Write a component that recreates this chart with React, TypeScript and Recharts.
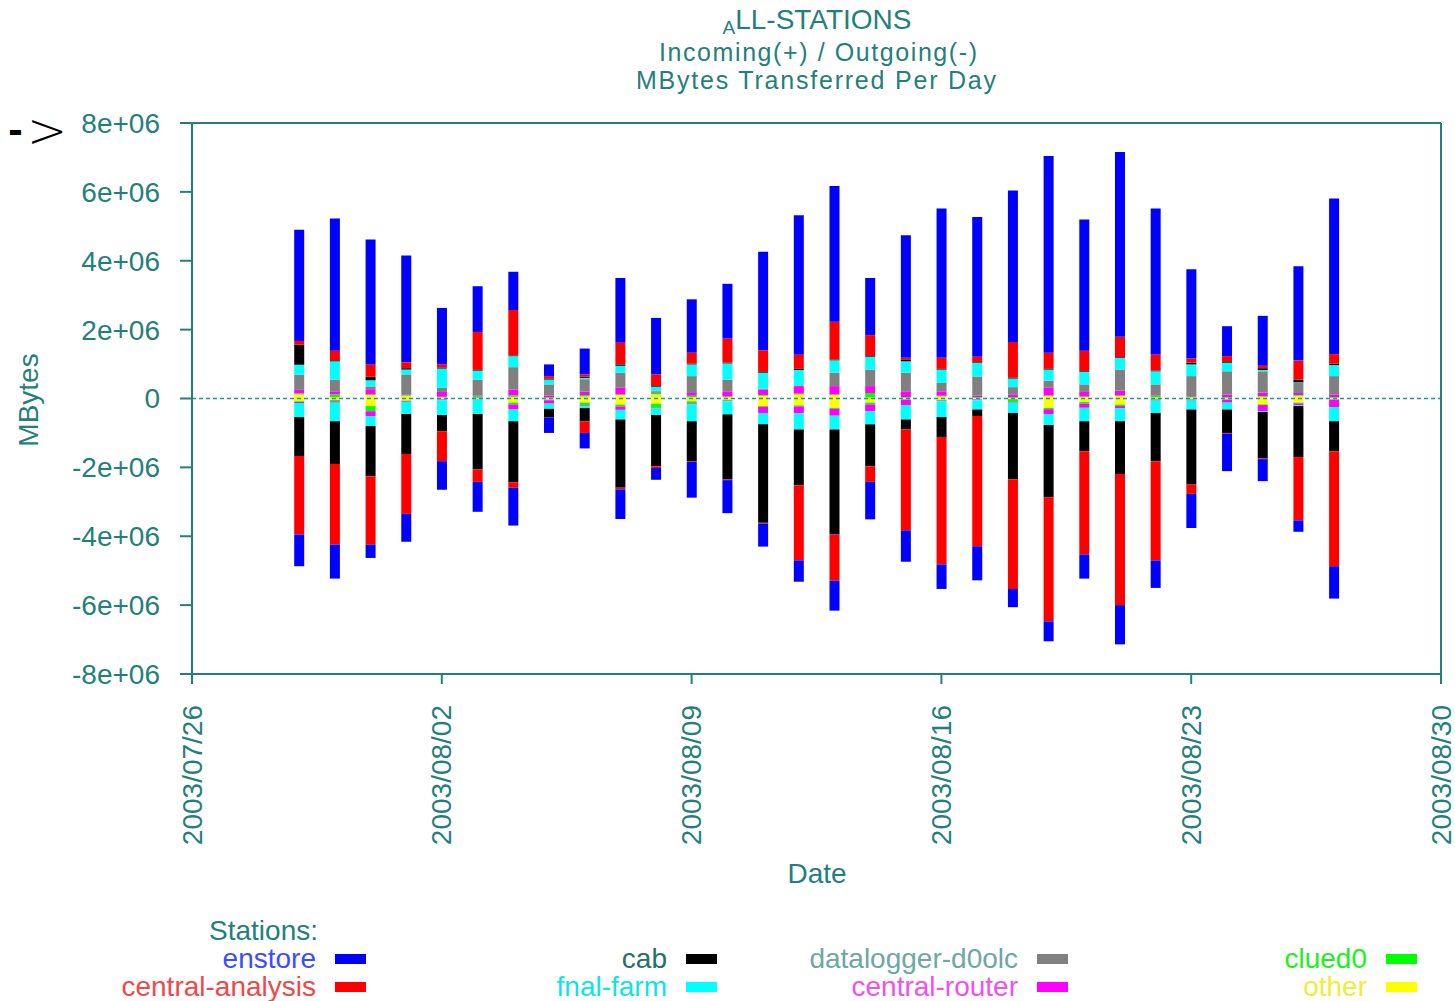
import React from 'react';
import { BarChart, Bar, XAxis, YAxis, ReferenceLine } from 'recharts';

// ---- categories ----
const dates = [
  '2003/07/29', '2003/07/30', '2003/07/31', '2003/08/01', '2003/08/02', '2003/08/03', '2003/08/04', '2003/08/05',
  '2003/08/06', '2003/08/07', '2003/08/08', '2003/08/09', '2003/08/10', '2003/08/11', '2003/08/12', '2003/08/13',
  '2003/08/14', '2003/08/15', '2003/08/16', '2003/08/17', '2003/08/18', '2003/08/19', '2003/08/20', '2003/08/21',
  '2003/08/22', '2003/08/23', '2003/08/24', '2003/08/25', '2003/08/26', '2003/08/27',
];
const startDate = '2003/07/26';
const xTickDates = ['2003/07/26', '2003/08/02', '2003/08/09', '2003/08/16', '2003/08/23', '2003/08/30'];
const yTicks = [-8, -6, -4, -2, 0, 2, 4, 6, 8]; // in units of 1e6 MBytes

// ---- series values (millions of MBytes), incoming (+) ----
const otherIn = [0.12, 0.04, 0.10, 0.08, 0.03, 0.02, 0.05, 0.02, 0.06, 0.10, 0.12, 0.04, 0.04, 0.08, 0.12, 0.10, 0.03, 0.02, 0.06, 0.02, 0.02, 0.07, 0.04, 0.07, 0.03, 0.03, 0.02, 0.05, 0.08, 0.02];
const clued0In = [0.03, 0.08, 0.02, 0.02, 0.02, 0.04, 0.04, 0.01, 0.04, 0.02, 0.05, 0.04, 0.02, 0.02, 0.02, 0.02, 0.13, 0.02, 0.02, 0.02, 0.02, 0.02, 0.02, 0.02, 0.04, 0.02, 0.02, 0.02, 0.02, 0.02];
const centralRouterIn = [0.10, 0.09, 0.15, 0.02, 0.14, 0.02, 0.17, 0.06, 0.10, 0.19, 0.03, 0.08, 0.15, 0.16, 0.22, 0.24, 0.20, 0.17, 0.13, 0.04, 0.08, 0.22, 0.13, 0.14, 0.02, 0.02, 0.08, 0.10, 0.06, 0.08];
const dataloggerIn = [0.44, 0.34, 0.08, 0.58, 0.12, 0.47, 0.65, 0.32, 0.36, 0.44, 0.02, 0.49, 0.34, 0.02, 0.02, 0.39, 0.48, 0.54, 0.24, 0.56, 0.21, 0.21, 0.22, 0.61, 0.32, 0.58, 0.67, 0.62, 0.29, 0.53];
const fnalFarmIn = [0.29, 0.53, 0.18, 0.14, 0.56, 0.26, 0.32, 0.14, 0.04, 0.20, 0.12, 0.34, 0.47, 0.47, 0.45, 0.36, 0.37, 0.33, 0.39, 0.39, 0.25, 0.32, 0.36, 0.34, 0.38, 0.34, 0.25, 0.04, 0.02, 0.32];
const cabIn = [0.58, 0.03, 0.10, 0.04, 0.02, 0.02, 0.02, 0.02, 0.03, 0.04, 0.02, 0.02, 0.02, 0.02, 0.03, 0.02, 0.02, 0.04, 0.02, 0.02, 0.02, 0.02, 0.02, 0.02, 0.02, 0.05, 0.02, 0.05, 0.08, 0.04];
const centralAnalysisIn = [0.11, 0.28, 0.36, 0.17, 0.10, 1.10, 1.32, 0.08, 0.07, 0.63, 0.34, 0.32, 0.70, 0.63, 0.41, 1.10, 0.61, 0.06, 0.32, 0.16, 1.04, 0.47, 0.60, 0.59, 0.47, 0.12, 0.17, 0.07, 0.55, 0.28];
const enstoreIn = [3.23, 3.84, 3.63, 3.10, 1.64, 1.33, 1.11, 0.34, 0.75, 1.88, 1.64, 1.55, 1.59, 2.86, 4.05, 3.94, 1.66, 3.56, 4.34, 4.06, 4.40, 5.71, 3.81, 5.37, 4.24, 2.59, 0.87, 1.45, 2.74, 4.52];

// ---- series values (millions of MBytes), outgoing (-) ----
const otherOut = [0.08, 0.04, 0.22, 0.06, 0.02, 0.01, 0.12, 0.03, 0.12, 0.18, 0.15, 0.08, 0.04, 0.22, 0.20, 0.27, 0.12, 0.02, 0.04, 0.02, 0.02, 0.27, 0.10, 0.18, 0.02, 0.02, 0.02, 0.17, 0.12, 0.02];
const clued0Out = [0.02, 0.04, 0.15, 0.02, 0.01, 0.01, 0.05, 0.02, 0.08, 0.05, 0.12, 0.06, 0.02, 0.02, 0.03, 0.03, 0.05, 0.02, 0.02, 0.01, 0.08, 0.04, 0.05, 0.04, 0.02, 0.02, 0.02, 0.02, 0.02, 0.02];
const centralRouterOut = [0.03, 0.04, 0.14, 0.02, 0.02, 0.01, 0.15, 0.10, 0.03, 0.10, 0.02, 0.03, 0.02, 0.18, 0.20, 0.20, 0.20, 0.15, 0.02, 0.02, 0.02, 0.14, 0.12, 0.06, 0.02, 0.02, 0.08, 0.18, 0.06, 0.21];
const dataloggerOut = [0, 0, 0, 0, 0, 0, 0, 0, 0, 0, 0, 0, 0, 0, 0, 0, 0, 0, 0, 0, 0, 0, 0, 0, 0, 0, 0, 0, 0, 0];
const fnalFarmOut = [0.41, 0.54, 0.29, 0.35, 0.43, 0.42, 0.34, 0.15, 0.05, 0.28, 0.19, 0.49, 0.38, 0.33, 0.47, 0.40, 0.38, 0.42, 0.46, 0.27, 0.30, 0.32, 0.39, 0.38, 0.36, 0.26, 0.20, 0.02, 0.02, 0.41];
const cabOut = [1.13, 1.24, 1.46, 1.16, 0.47, 1.61, 1.77, 0.25, 0.38, 1.98, 1.49, 1.16, 1.89, 2.86, 1.62, 3.05, 1.22, 0.29, 0.58, 0.19, 1.93, 2.10, 0.87, 1.53, 1.40, 2.18, 0.68, 1.35, 1.48, 0.87];
const centralAnalysisOut = [2.28, 2.34, 1.98, 1.74, 0.87, 0.36, 0.16, 0.00, 0.34, 0.05, 0.05, 0.02, 0.02, 0.02, 2.18, 1.34, 0.45, 2.93, 3.70, 3.78, 3.18, 3.60, 3.00, 3.81, 2.88, 0.27, 0.02, 0.02, 1.84, 3.34];
const enstoreOut = [0.92, 0.99, 0.39, 0.81, 0.83, 0.87, 1.10, 0.45, 0.45, 0.86, 0.34, 1.04, 0.96, 0.67, 0.62, 0.87, 1.09, 0.91, 0.71, 0.99, 0.53, 0.58, 0.70, 1.14, 0.80, 0.99, 1.09, 0.64, 0.33, 0.94];

// ---- stations (stack order: nearest zero first) ----
const stations = [
  { key: 'other', color: '#ffff00', text: '#eded3a', inV: otherIn, outV: otherOut },
  { key: 'clued0', color: '#00ff00', text: '#22ee22', inV: clued0In, outV: clued0Out },
  { key: 'central-router', color: '#ff00ff', text: '#f050f0', inV: centralRouterIn, outV: centralRouterOut },
  { key: 'datalogger-d0olc', color: '#808080', text: '#6ea7a4', inV: dataloggerIn, outV: dataloggerOut },
  { key: 'fnal-farm', color: '#00ffff', text: '#10e4e4', inV: fnalFarmIn, outV: fnalFarmOut },
  { key: 'cab', color: '#000000', text: '#2a6e6a', inV: cabIn, outV: cabOut },
  { key: 'central-analysis', color: '#ff0000', text: '#f04848', inV: centralAnalysisIn, outV: centralAnalysisOut },
  { key: 'enstore', color: '#0000ff', text: '#3d4cff', inV: enstoreIn, outV: enstoreOut },
];
// legend layout: columns of two
const legendColumns = [
  ['enstore', 'central-analysis'],
  ['cab', 'fnal-farm'],
  ['datalogger-d0olc', 'central-router'],
  ['clued0', 'other'],
];

const dayIndex = (d: string) => {
  const [y, m, dd] = d.split('/').map(Number);
  const [y0, m0, d0] = startDate.split('/').map(Number);
  return Math.round((Date.UTC(y, m - 1, dd) - Date.UTC(y0, m0 - 1, d0)) / 86400000);
};

const table = dates.map((d, i) => {
  const row: Record<string, number | string> = { x: dayIndex(d), date: d };
  stations.forEach((s) => {
    row[`${s.key}_in`] = s.inV[i];
    row[`${s.key}_out`] = -s.outV[i];
  });
  return row;
});

const xTicks = xTickDates.map(dayIndex);
const tickLabelByIndex: Record<number, string> = {};
xTickDates.forEach((d) => { tickLabelByIndex[dayIndex(d)] = d; });

const AXIS = '#247f7a';
const FONT = '"Liberation Sans", Arial, Helvetica, sans-serif';
const FS = 28;

const XTick = (props: any) => {
  const { x, y, payload } = props;
  return (
    <text
      x={x}
      y={y}
      transform={`rotate(-90, ${x}, ${y})`}
      textAnchor="end"
      dominantBaseline="central"
      fill={AXIS}
      fontSize={FS}
      fontFamily={FONT}
    >
      {tickLabelByIndex[payload.value]}
    </text>
  );
};

const fmtY = (v: number) => (v === 0 ? '0' : `${v}e+06`);

const colX = [316, 667, 1018, 1367];
const rowY = [968, 996];

export default function App() {
  return (
    <div style={{ position: 'absolute', left: 0, top: 0, width: 1455, height: 1001, background: '#fff', fontFamily: FONT }}>
      <BarChart
        width={1455}
        height={1001}
        data={table}
        stackOffset="sign"
        barSize={10}
        margin={{ top: 123, right: 0, bottom: 0, left: 0 }}
      >
        <XAxis
          dataKey="x"
          type="number"
          domain={[0, 35]}
          ticks={xTicks}
          interval={0}
          height={327}
          tickSize={10}
          tickMargin={21}
          tick={<XTick />}
          stroke={AXIS}
          axisLine={{ stroke: AXIS, strokeWidth: 2 }}
          tickLine={{ stroke: AXIS, strokeWidth: 2 }}
        />
        <YAxis
          yAxisId="left"
          type="number"
          domain={[-8, 8]}
          ticks={yTicks}
          interval={0}
          width={192}
          tickSize={12}
          tickMargin={20}
          tickFormatter={fmtY}
          tick={{ fill: AXIS, fontSize: FS, fontFamily: FONT }}
          axisLine={{ stroke: AXIS, strokeWidth: 2 }}
          tickLine={{ stroke: AXIS, strokeWidth: 2 }}
        />
        <YAxis
          yAxisId="right"
          orientation="right"
          type="number"
          domain={[-8, 8]}
          ticks={yTicks}
          interval={0}
          width={14}
          tickSize={14}
          tick={false}
          axisLine={{ stroke: AXIS, strokeWidth: 2 }}
          tickLine={{ stroke: AXIS, strokeWidth: 2 }}
        />
        <ReferenceLine yAxisId="left" y={8} stroke={AXIS} strokeWidth={2} />
        <ReferenceLine yAxisId="left" y={0} stroke="#1a9a94" strokeWidth={1.5} strokeDasharray="4 3" />
        {stations.flatMap((s) => [
          <Bar key={`${s.key}_in`} yAxisId="left" dataKey={`${s.key}_in`} stackId="a" fill={s.color} isAnimationActive={false} />,
          <Bar key={`${s.key}_out`} yAxisId="left" dataKey={`${s.key}_out`} stackId="a" fill={s.color} isAnimationActive={false} />,
        ])}
      </BarChart>
      <svg width={1455} height={1001} style={{ position: 'absolute', left: 0, top: 0, pointerEvents: 'none' }}>
        <g fontFamily={FONT} fill={AXIS}>
          <text x={817} y={29} textAnchor="middle" fontSize={FS}>
            <tspan fontSize={19} dy={5}>A</tspan>
            <tspan dy={-5}>LL-STATIONS</tspan>
          </text>
          <text x={818} y={61} textAnchor="middle" fontSize={25} textLength={318} lengthAdjust="spacing">Incoming(+) / Outgoing(-)</text>
          <text x={816} y={89} textAnchor="middle" fontSize={25} textLength={360} lengthAdjust="spacing">MBytes Transferred Per Day</text>
          <text x={817} y={883} textAnchor="middle" fontSize={FS}>Date</text>
          <text x={28} y={400} transform="rotate(-90, 28, 400)" textAnchor="middle" dominantBaseline="central" fontSize={FS}>MBytes</text>
          <text x={318} y={940} textAnchor="end" fontSize={FS}>Stations:</text>
          {legendColumns.map((col, ci) =>
            col.map((name, ri) => {
              const s = stations.find((t) => t.key === name)!;
              return (
                <g key={name}>
                  <text x={colX[ci]} y={rowY[ri]} textAnchor="end" fontSize={FS} fill={s.text}>{name}</text>
                  <rect x={colX[ci] + 19} y={rowY[ri] - 14} width={31} height={10} fill={s.color} />
                </g>
              );
            })
          )}
        </g>
        <g fill="#000" fontFamily="DejaVu Sans, sans-serif">
          <text x={8} y={143} fontSize={36} fontWeight="bold">-</text>
          <text x={27} y={147} fontSize={48} fontWeight={300}>&gt;</text>
        </g>
      </svg>
    </div>
  );
}
